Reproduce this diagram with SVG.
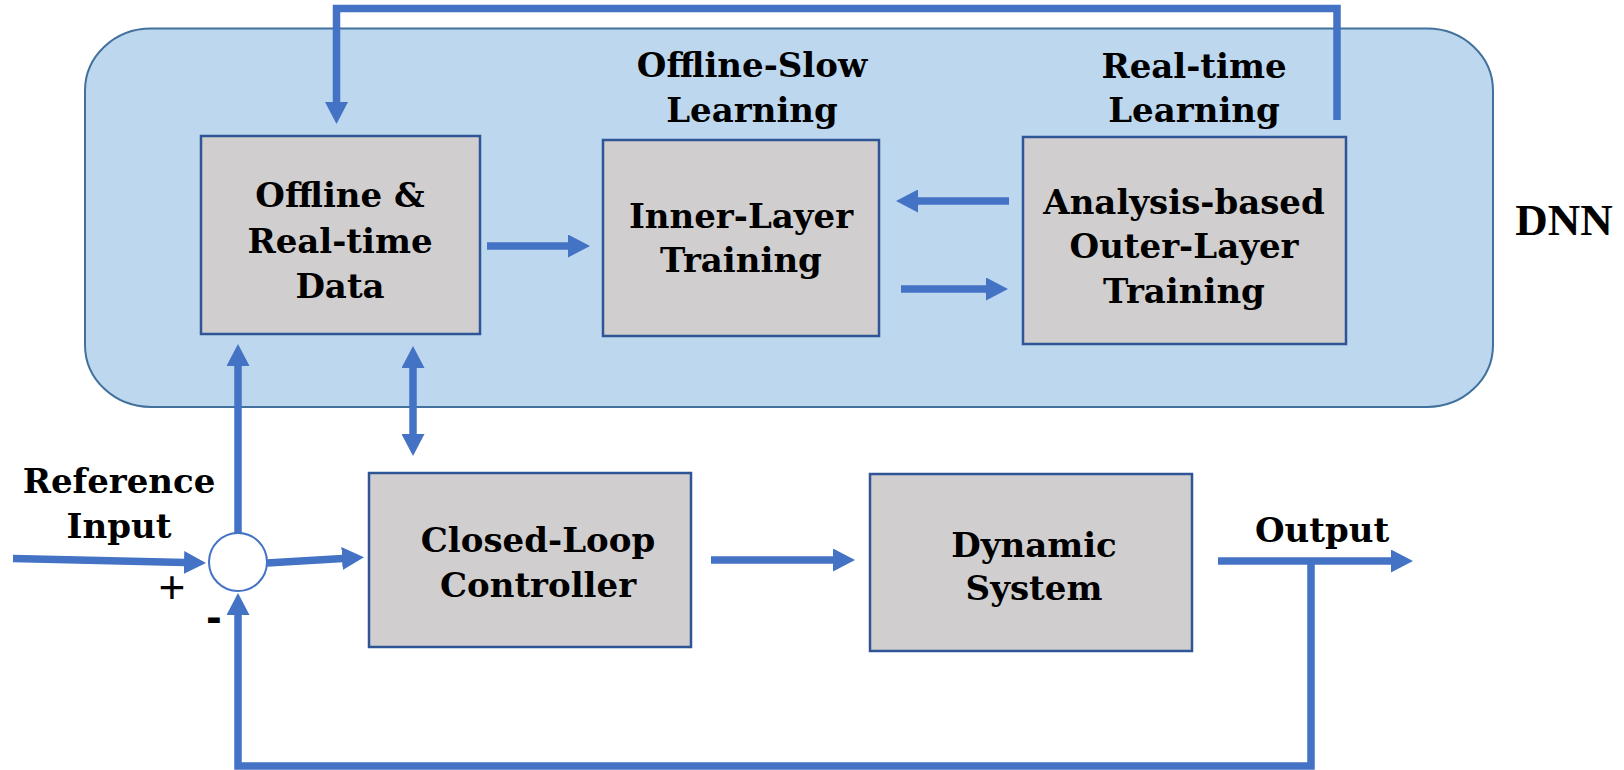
<svg xmlns="http://www.w3.org/2000/svg" width="1624" height="770" viewBox="0 0 1624 770">
<style>
.box{fill:#D0CECE;stroke:#2F5597;stroke-width:2.5}
.t{font-family:"DejaVu Serif",serif;font-weight:bold;font-size:34px;fill:#000;text-anchor:middle}
.c{fill:none;stroke:#4472C4;stroke-width:7.5;stroke-linejoin:miter}
.sgn{font-family:"Liberation Sans",sans-serif;font-size:46px;fill:#000;text-anchor:middle}
</style>
<defs>
<marker id="ah" viewBox="0 0 22 23" refX="1" refY="11.5" markerWidth="22" markerHeight="23" markerUnits="userSpaceOnUse" orient="auto-start-reverse">
<path d="M0,0 L22,11.5 L0,23 z" fill="#4472C4"/>
</marker>
</defs>
<rect width="1624" height="770" fill="#fff"/>
<g id="dnn">
<rect x="85" y="28.5" width="1408" height="378.5" rx="66" ry="62" fill="#BDD7EE" stroke="#41719C" stroke-width="2"/>
<text x="1564" y="235" style="font-family:'Liberation Serif',serif;font-weight:bold;font-size:45px;text-anchor:middle">DNN</text>
</g>
<g id="lbl-offline-slow">
<text class="t" x="752" y="77">Offline-Slow</text>
<text class="t" x="752" y="122">Learning</text>
</g>
<g id="lbl-realtime">
<text class="t" x="1194" y="78">Real-time</text>
<text class="t" x="1194" y="122">Learning</text>
</g>
<g id="n-data">
<rect class="box" x="201" y="136" width="279" height="198"/>
<text class="t" x="340" y="207">Offline &amp;</text>
<text class="t" x="340" y="253">Real-time</text>
<text class="t" x="340" y="298">Data</text>
</g>
<g id="n-inner">
<rect class="box" x="603" y="140" width="276" height="196"/>
<text class="t" x="741" y="228">Inner-Layer</text>
<text class="t" x="741" y="272">Training</text>
</g>
<g id="n-outer">
<rect class="box" x="1023" y="137" width="323" height="207"/>
<text class="t" x="1184" y="214">Analysis-based</text>
<text class="t" x="1184" y="258">Outer-Layer</text>
<text class="t" x="1184" y="303">Training</text>
</g>
<g id="n-controller">
<rect class="box" x="369" y="473" width="322" height="174"/>
<text class="t" x="538" y="552">Closed-Loop</text>
<text class="t" x="538" y="597">Controller</text>
</g>
<g id="n-system">
<rect class="box" x="870" y="474" width="322" height="177"/>
<text class="t" x="1034" y="557">Dynamic</text>
<text class="t" x="1034" y="600">System</text>
</g>
<g id="lbl-ref">
<text class="t" x="119" y="493">Reference</text>
<text class="t" x="119" y="538">Input</text>
</g>
<g id="lbl-output">
<text class="t" x="1322" y="542">Output</text>
</g>
<g id="connectors">
<path class="c" d="M1337,120 V8.5 H336.5 V103" marker-end="url(#ah)"/>
<path class="c" d="M487,246 H569" marker-end="url(#ah)"/>
<path class="c" d="M1009,201 H917" marker-end="url(#ah)"/>
<path class="c" d="M901,289 H987" marker-end="url(#ah)"/>
<path class="c" d="M413,367 V435" marker-start="url(#ah)" marker-end="url(#ah)"/>
<path class="c" d="M238,533 V365" marker-end="url(#ah)"/>
<path class="c" d="M13,558.5 L185,562.5" marker-end="url(#ah)"/>
<path class="c" d="M267,563 L343,558.5" marker-end="url(#ah)"/>
<path class="c" d="M711,560 H834" marker-end="url(#ah)"/>
<path class="c" d="M1218,561 H1392" marker-end="url(#ah)"/>
<path class="c" d="M1311,561 V766 H238 V614" marker-end="url(#ah)"/>
</g>
<g id="n-sum">
<circle cx="238" cy="562" r="29" fill="#fff" stroke="#4472C4" stroke-width="2"/>
<text class="sgn" x="172" y="603">+</text>
<text class="sgn" x="214" y="632" style="font-weight:bold">-</text>
</g>
</svg>
